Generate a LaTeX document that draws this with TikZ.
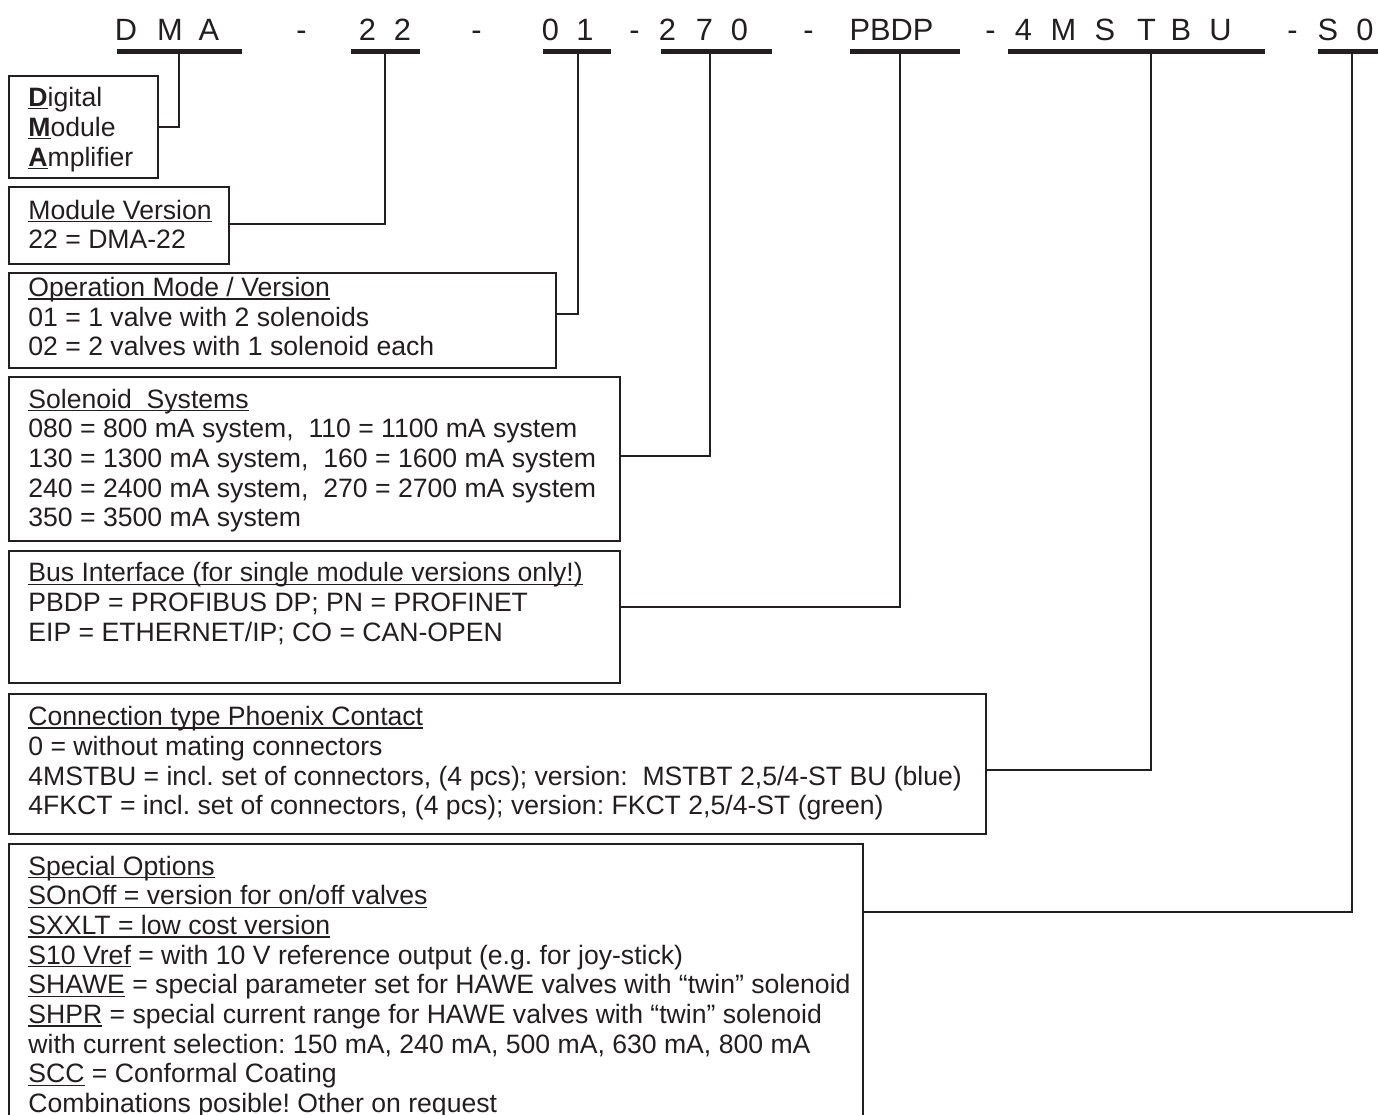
\documentclass[tikz,border=0pt]{standalone}
\usepackage{fontspec}
\setmainfont{Liberation Sans}
\frenchspacing
\newsavebox\ulbox
\newcommand{\uln}[1]{\sbox\ulbox{#1}\rlap{\rule[-1.6pt]{\wd\ulbox}{0.7pt}}\usebox\ulbox}
\definecolor{ink}{HTML}{231F20}
\begin{document}
\begin{tikzpicture}[x=0.5pt,y=-0.5pt,
  box/.style={draw=ink, line width=0.9pt, rectangle, inner sep=0pt, anchor=north west},
  txt/.style={anchor=base west, inner sep=0pt, text=ink, font=\fontsize{13.3pt}{15pt}\selectfont\frenchspacing},
  code/.style={anchor=base, inner sep=0pt, text=ink, font=\fontsize{15.4pt}{18pt}\selectfont},
  bar/.style={draw=ink, line width=2.35pt},
  conn/.style={draw=ink, line width=0.9pt}]
\useasboundingbox (0,0) rectangle (1378,1115);
\fill[white] (0,0) rectangle (1378,1115);
\clip (0,0) rectangle (1378,1115);

% ---- type code line ----
\node[code] (cD)  at (126,40)   {D};
\node[code] (cM)  at (170,40)   {M};
\node[code] (cA)  at (209,40)   {A};
\node[code] (h1)  at (301.5,40) {-};
\node[code] (c21) at (367.5,40) {2};
\node[code] (c22) at (402.5,40) {2};
\node[code] (h2)  at (476.5,40) {-};
\node[code] (c01) at (550.5,40) {0};
\node[code] (c02) at (585,40)   {1};
\node[code] (h3)  at (634.5,40) {-};
\node[code] (c31) at (667.5,40) {2};
\node[code] (c32) at (704.5,40) {7};
\node[code] (c33) at (739.5,40) {0};
\node[code] (h4)  at (808.5,40) {-};
\node[code] (cP)  at (891.5,40) {PBDP};
\node[code] (h5)  at (990.5,40) {-};
\node[code] (c41) at (1023.5,40) {4};
\node[code] (c42) at (1063.5,40) {M};
\node[code] (c43) at (1105,40)  {S};
\node[code] (c44) at (1146.5,40) {T};
\node[code] (c45) at (1181,40)  {B};
\node[code] (c46) at (1220.5,40) {U};
\node[code] (h6)  at (1292.5,40) {-};
\node[code] (c51) at (1328,40)  {S};
\node[code] (c52) at (1365,40)  {0};

% ---- bars ----
\draw[bar] (117,51.7) -- (242,51.7);
\draw[bar] (351,51.7) -- (420,51.7);
\draw[bar] (543,51.7) -- (611,51.7);
\draw[bar] (661,51.7) -- (772,51.7);
\draw[bar] (850,51.7) -- (960,51.7);
\draw[bar] (1008,51.7) -- (1265,51.7);
\draw[bar] (1318,51.7) -- (1385,51.7);
\coordinate (v1) at (179,51.7);
\coordinate (v2) at (385,51.7);
\coordinate (v3) at (578,51.7);
\coordinate (v4) at (710,51.7);
\coordinate (v5) at (900,51.7);
\coordinate (v6) at (1151,51.7);
\coordinate (v7) at (1352,51.7);

% ---- boxes ----
\node[box, minimum width=74.5pt, minimum height=51pt]   (dig) at (8,75)  {};
\node[box, minimum width=110pt,  minimum height=38.5pt] (mv)  at (8,186) {};
\node[box, minimum width=273.5pt,minimum height=47.5pt] (op)  at (8,272) {};
\node[box, minimum width=305.5pt,minimum height=82pt]   (sol) at (8,376) {};
\node[box, minimum width=305.5pt,minimum height=66pt]   (bus) at (8,550) {};
\node[box, minimum width=488.5pt,minimum height=70pt]   (con) at (8,693) {};
\node[box, minimum width=427pt,  minimum height=150pt]  (spe) at (8,843) {};

% ---- connectors ----
\draw[conn] ([yshift=-26pt]dig.north east)   -| (v1);
\draw[conn] ([yshift=-19pt]mv.north east)    -| (v2);
\draw[conn] ([yshift=-21pt]op.north east)    -| (v3);
\draw[conn] ([yshift=-40pt]sol.north east)   -| (v4);
\draw[conn] ([yshift=-28.5pt]bus.north east) -| (v5);
\draw[conn] ([yshift=-38.5pt]con.north east) -| (v6);
\draw[conn] ([yshift=-34.5pt]spe.north east) -| (v7);

% ---- texts ----
\node[txt] (d1) at (28,106) {\textbf{\uln{D}}igital};
\node[txt] (d2) at (28,136) {\textbf{\uln{M}}odule};
\node[txt] (d3) at (28,166) {\textbf{\uln{A}}mplifier};

\node[txt] (m1) at (28,219) {\uln{Module Version}};
\node[txt] (m2) at (28,248) {22 = DMA-22};

\node[txt] (o1) at (28,296.5) {\uln{Operation Mode / Version}};
\node[txt] (o2) at (28,326)   {01 = 1 valve with 2 solenoids};
\node[txt] (o3) at (28,355.5) {02 = 2 valves with 1 solenoid each};

\node[txt] (s1) at (28,408)   {\uln{Solenoid~ Systems}};
\node[txt] (s2) at (28,437.7) {080 = 800 mA system,~ 110 = 1100 mA system};
\node[txt] (s3) at (28,467.4) {130 = 1300 mA system,~ 160 = 1600 mA system};
\node[txt] (s4) at (28,497.1) {240 = 2400 mA system,~ 270 = 2700 mA system};
\node[txt] (s5) at (28,526.8) {350 = 3500 mA system};

\node[txt] (b1) at (28,581.7) {\uln{Bus Interface (for single module versions only!)}};
\node[txt] (b2) at (28,611.4) {PBDP = PROFIBUS DP; PN = PROFINET};
\node[txt] (b3) at (28,641.1) {EIP = ETHERNET/IP; CO = CAN-OPEN};

\node[txt] (k1) at (28,725.5) {\uln{Connection type Phoenix Contact}};
\node[txt] (k2) at (28,755.3) {0 = without mating connectors};
\node[txt] (k3) at (28,785.1) {4MSTBU = incl. set of connectors, (4 pcs); version:~ MSTBT 2,5/4-ST BU (blue)};
\node[txt] (k4) at (28,814.9) {4FKCT = incl. set of connectors, (4 pcs); version: FKCT 2,5/4-ST (green)};

\node[txt] (p0) at (28,875)    {\uln{Special Options}};
\node[txt] (p1) at (28,904.7)  {\uln{SOnOff = version for on/off valves}};
\node[txt] (p2) at (28,934.4)  {\uln{SXXLT = low cost version}};
\node[txt] (p3) at (28,964.1)  {\uln{S10 Vref} = with 10 V reference output (e.g. for joy-stick)};
\node[txt] (p4) at (28,993.8)  {\uln{SHAWE} = special parameter set for HAWE valves with “twin” solenoid};
\node[txt] (p5) at (28,1023.5) {\uln{SHPR} = special current range for HAWE valves with “twin” solenoid};
\node[txt] (p6) at (28,1053.2) {with current selection: 150 mA, 240 mA, 500 mA, 630 mA, 800 mA};
\node[txt] (p7) at (28,1082.9) {\uln{SCC} = Conformal Coating};
\node[txt] (p8) at (28,1112.3) {Combinations posible! Other on request};
\end{tikzpicture}
\end{document}
